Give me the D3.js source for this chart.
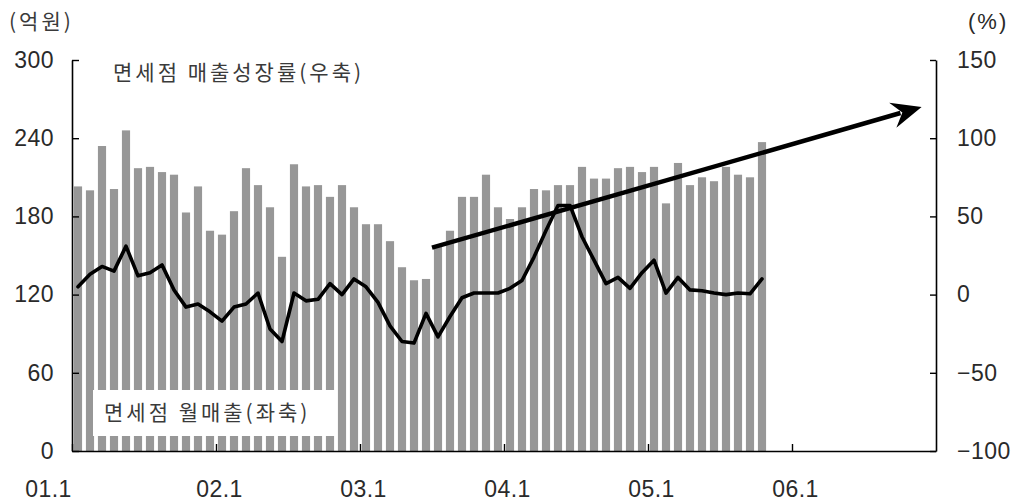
<!DOCTYPE html>
<html>
<head>
<meta charset="utf-8">
<script src="https://cdn.jsdelivr.net/npm/d3@7/dist/d3.min.js"></script>
<style>
  html, body { margin: 0; padding: 0; background: #fff; }
  svg { display: block; }
  .tick text { font-family: "Liberation Sans", Arial, sans-serif; font-size: 23px; fill: #2a2a2a; letter-spacing: 0.5px; }
  .kr { font-family: "Noto Sans CJK KR", sans-serif; fill: #3a3a3a; }
</style>
</head>
<body>
<svg id="chart" width="1021" height="502"></svg>
<script>
// Monthly duty-free sales (100 million won), Jan 2001 onward
const salesMonthly = [
  203, 200, 234, 201, 246, 217, 218, 214, 212, 183, 203, 169,
  166, 184, 217, 204, 187, 149, 220, 203, 204, 195, 204, 187,
  174, 174, 161, 141, 131, 132, 157, 169, 195, 195, 212, 187,
  178, 187, 201, 200, 204, 204, 218, 209, 209, 217, 218, 214,
  218, 190, 221, 204, 210, 207, 218, 212, 210, 237
];
// Year-on-year sales growth (%), same months
const growthRate = [
  5, 13, 18, 15, 31, 12, 14, 19, 3, -8, -6, -11,
  -17, -8, -6, 1, -22, -30, 1, -4, -3, 7, 0, 10,
  5, -5, -20, -30, -31, -12, -27, -14, -2, 1, 1, 1,
  4, 9, 24, 41, 57, 57, 37, 22, 7, 11, 4, 14,
  22, 1, 11, 3, 2.5, 1, 0, 1, 0.5, 10
];
// Trend arrow on the growth axis: [month index, %]
const trendStart = [30, 30];
const trendEnd = [70.8, 120];

const yearTicks = [0, 12, 24, 36, 48, 60];
const yearLabels = ["01.1", "02.1", "03.1", "04.1", "05.1", "06.1"];
const leftTicks = [0, 60, 120, 180, 240, 300];
const rightTicks = [-100, -50, 0, 50, 100, 150];

const totalMonths = 72;
const plotLeft = 72, plotRight = 936, plotTop = 60, plotBottom = 451;

const svg = d3.select("#chart");

const xMonth = d3.scaleLinear().domain([0, totalMonths]).range([plotLeft, plotRight]);
const xBand = d3.scaleBand()
  .domain(d3.range(totalMonths))
  .range([plotLeft, plotRight])
  .paddingInner(0.32)
  .paddingOuter(0.16);
const yLeft = d3.scaleLinear().domain([0, 300]).range([plotBottom, plotTop]);
const yRight = d3.scaleLinear().domain([-100, 150]).range([plotBottom, plotTop]);

// Bars
svg.append("g")
  .selectAll("rect")
  .data(salesMonthly)
  .join("rect")
  .attr("x", (d, i) => xBand(i))
  .attr("width", xBand.bandwidth())
  .attr("y", d => yLeft(d))
  .attr("height", d => yLeft(0) - yLeft(d))
  .attr("fill", "#979797");

// Legend box for the bars (covers bar bottoms)
svg.append("rect")
  .attr("x", 93).attr("y", 390)
  .attr("width", 244).attr("height", 46)
  .attr("fill", "#fff");
svg.append("text")
  .attr("class", "kr")
  .attr("x", 104).attr("y", 420)
  .attr("font-size", 21)
  .attr("letter-spacing", 3)
  .text("면세점 월매출(좌축)");

// Growth line
const line = d3.line()
  .x((d, i) => xBand(i) + xBand.bandwidth() / 2)
  .y(d => yRight(d));
svg.append("path")
  .datum(growthRate)
  .attr("d", line)
  .attr("fill", "none")
  .attr("stroke", "#000")
  .attr("stroke-width", 3.6)
  .attr("stroke-linejoin", "round")
  .attr("stroke-linecap", "round");

// Trend arrow
const ax0 = xMonth(trendStart[0]), ay0 = yRight(trendStart[1]);
const ax1 = xMonth(trendEnd[0]), ay1 = yRight(trendEnd[1]);
const ang = Math.atan2(ay1 - ay0, ax1 - ax0);
const headLen = 30, headHalf = 13, notch = 10;
const ux = Math.cos(ang), uy = Math.sin(ang);
const px = -uy, py = ux;
const baseX = ax1 - ux * headLen, baseY = ay1 - uy * headLen;
svg.append("line")
  .attr("x1", ax0).attr("y1", ay0)
  .attr("x2", ax1 - ux * (headLen - notch + 2)).attr("y2", ay1 - uy * (headLen - notch + 2))
  .attr("stroke", "#000")
  .attr("stroke-width", 4.5);
svg.append("path")
  .attr("d", [
    "M", ax1, ay1,
    "L", baseX + px * headHalf, baseY + py * headHalf,
    "L", ax1 - ux * (headLen - notch), ay1 - uy * (headLen - notch),
    "L", baseX - px * headHalf, baseY - py * headHalf,
    "Z"
  ].join(" "))
  .attr("fill", "#000");

// Axes
const axisL = d3.axisLeft(yLeft).tickValues(leftTicks)
  .tickSizeInner(-7).tickSizeOuter(0).tickPadding(18);
const gL = svg.append("g").attr("transform", `translate(${plotLeft},0)`).call(axisL);

const axisR = d3.axisRight(yRight).tickValues(rightTicks)
  .tickSizeInner(-6).tickSizeOuter(0).tickPadding(21)
  .tickFormat(d3.format("d"));
const gR = svg.append("g").attr("transform", `translate(${plotRight},0)`).call(axisR);

const axisB = d3.axisBottom(xMonth).tickValues(yearTicks)
  .tickSizeInner(-7).tickSizeOuter(0).tickPadding(30)
  .tickFormat((d, i) => yearLabels[i]);
const gB = svg.append("g").attr("transform", `translate(0,${plotBottom})`).call(axisB);
// the first year label sits out to the left, under the value labels
gB.selectAll(".tick text")
  .attr("dx", (d, i) => i === 0 ? -24 : 3)
  .attr("letter-spacing", 1.5);

[gL, gR, gB].forEach(g => {
  g.select(".domain").attr("stroke", "#000").attr("stroke-width", 1.6);
  g.selectAll(".tick line").attr("stroke", "#000").attr("stroke-width", 1.4);
});

// Axis unit captions and series caption
svg.append("text")
  .attr("class", "kr")
  .attr("x", 9).attr("y", 29)
  .attr("font-size", 21)
  .attr("letter-spacing", 3)
  .text("(억원)");
svg.append("text")
  .attr("x", 968).attr("y", 29)
  .attr("font-family", "Liberation Sans, Arial, sans-serif")
  .attr("font-size", 22)
  .attr("letter-spacing", 2)
  .attr("fill", "#2a2a2a")
  .text("(%)");
svg.append("text")
  .attr("class", "kr")
  .attr("x", 113).attr("y", 80)
  .attr("font-size", 21)
  .attr("letter-spacing", 3)
  .text("면세점 매출성장률(우축)");
</script>
</body>
</html>
